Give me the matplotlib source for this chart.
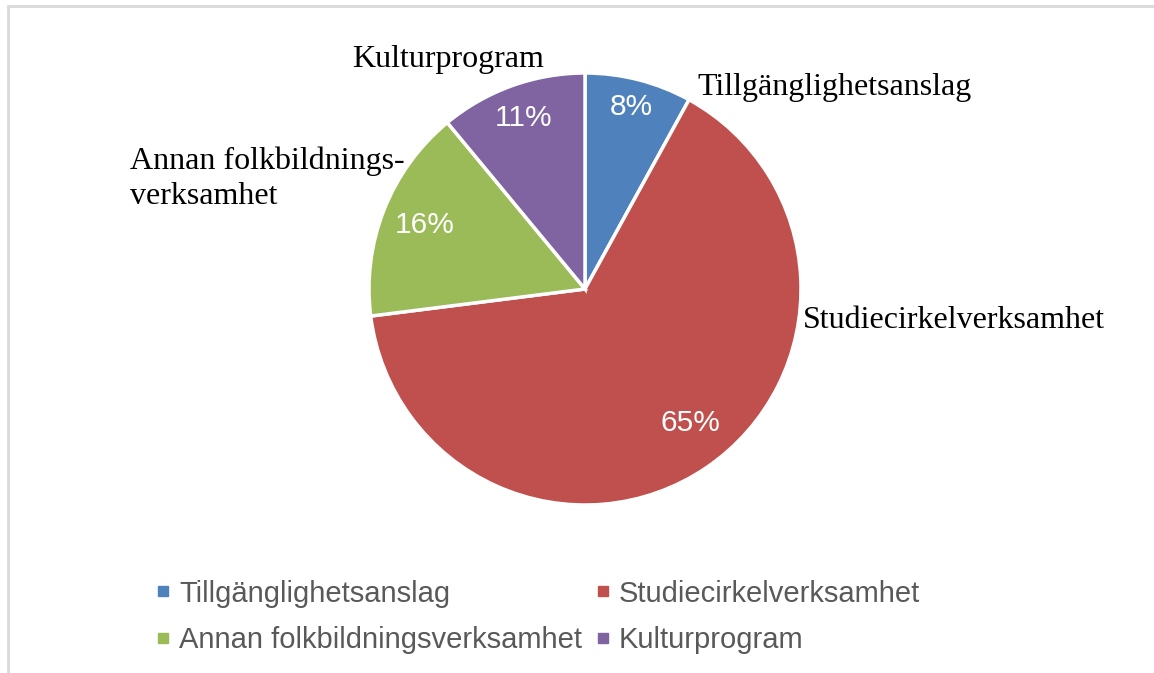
import matplotlib.pyplot as plt
from matplotlib.patches import Rectangle
from matplotlib.lines import Line2D
import numpy as np

# data
categories = ["Tillgänglighetsanslag", "Studiecirkelverksamhet",
              "Annan folkbildningsverksamhet", "Kulturprogram"]
outer_labels = ["Tillgänglighetsanslag", "Studiecirkelverksamhet",
                "Annan folkbildnings-\nverksamhet", "Kulturprogram"]
shares = [8, 65, 16, 11]
colors = ["#4f81bd", "#c0504d", "#9bbb59", "#8064a2"]

W, H = 1154, 673
fig = plt.figure(figsize=(W / 100, H / 100), dpi=100)

# pie area, centre ~ (585,289) px, radius ~216 px
cx, cy, r = 585, 289, 216
ax = fig.add_axes([(cx - r) / W, 1 - (cy + r) / H, 2 * r / W, 2 * r / H])

wedges, texts, autotexts = ax.pie(
    shares, colors=colors, startangle=90, counterclock=False,
    autopct="%1.0f%%", pctdistance=0.82,
    wedgeprops=dict(edgecolor="white", linewidth=2.5),
    textprops=dict(color="white", fontsize=21.5, family="Liberation Sans"))
ax.set_xlim(-1, 1)
ax.set_ylim(-1, 1)
ax.set_aspect("equal")

# excel places the percent labels at slightly different radii / angles
pct_dist = [0.87, 0.79, 0.80, 0.84]
pct_shift = [0, 4, 0, 0]   # degrees
for w, t, d, s in zip(wedges, autotexts, pct_dist, pct_shift):
    ang = np.deg2rad((w.theta1 + w.theta2) / 2 + s)
    t.set_position((d * np.cos(ang), d * np.sin(ang)))

# outside category labels (serif, like Times)
label_pos = [(697, 88), (803, 320), (130, 179), (352, 60)]
for txt, (px, py) in zip(outer_labels, label_pos):
    fig.text(px / W, 1 - py / H, txt, ha="left", va="center", fontsize=23,
             family="Liberation Serif", color="black", linespacing=1.25)

# legend, row order like excel
order = [0, 2, 1, 3]
handles = [Line2D([], [], marker="s", linestyle="none", markersize=6.5,
                  color=colors[i]) for i in order]
fig.legend(handles, [categories[i] for i in order], ncol=2,
           loc="center", bbox_to_anchor=(538 / W, 1 - 617 / H),
           frameon=False, labelcolor="#595959",
           prop=dict(family="Liberation Sans", size=21),
           handlelength=0.5, handletextpad=0.3, columnspacing=0.45,
           labelspacing=0.65)

# chart border (only top/left visible in the crop)
fig.patches.append(Rectangle((8 / W, -0.1), 1.2, 1 - 6 / H + 0.1,
                             transform=fig.transFigure, fill=False,
                             edgecolor="#d9d9d9", linewidth=2))

fig.savefig("out.png", dpi=100)
